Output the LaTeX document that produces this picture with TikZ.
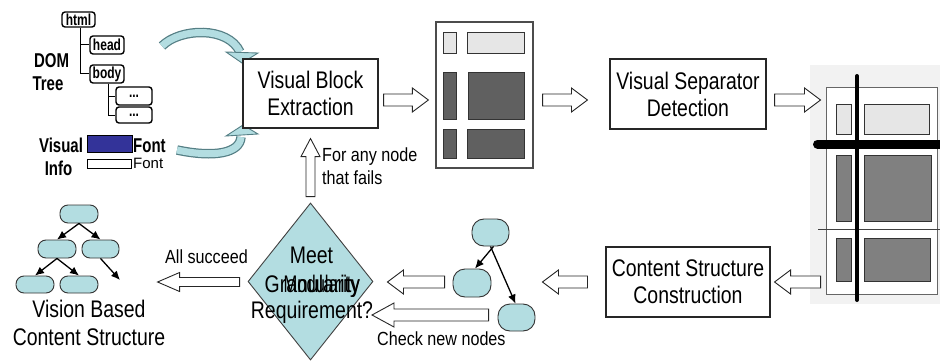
\documentclass[tikz,border=0pt]{standalone}
\usepackage{fontspec}
\setmainfont{Liberation Sans}
\newfontfamily\labf{Liberation Sans}[FakeStretch=0.85]
\newfontfamily\boxf{Liberation Sans}[FakeStretch=0.81]
\newfontfamily\domf{Liberation Sans}[FakeStretch=0.75]
\usetikzlibrary{arrows.meta,calc,shapes.geometric}
\definecolor{aqua}{HTML}{B3DDE1}
\definecolor{aquaedge}{HTML}{557F85}
\definecolor{navyfill}{HTML}{333399}
\definecolor{lightblk}{HTML}{E6E6E6}
\definecolor{darkblk}{HTML}{606060}
\definecolor{midblk}{HTML}{808080}
\begin{document}
\begin{tikzpicture}[x=1pt,y=-1pt,
  box/.style={draw=black!85, line width=1.1pt, fill=white, inner sep=0pt, align=center,
    font=\boxf\fontsize{24}{27}\selectfont},
  lbl/.style={inner sep=0pt, font=\labf\fontsize{19}{23}\selectfont},
  big/.style={inner sep=0pt, align=center, font=\boxf\fontsize{24}{28}\selectfont},
  domlbl/.style={inner sep=0pt, font=\domf\bfseries\fontsize{20}{22}\selectfont},
  dombox/.style={draw=black, line width=1.4pt, rounded corners=3pt, fill=white, inner sep=0pt,
    font=\domf\bfseries\fontsize{16}{16}\selectfont},
  page/.style={draw=black!70, line width=1.2pt, fill=white, inner sep=0pt},
  blkl/.style={draw=black!80, line width=0.9pt, fill=lightblk},
  blkd/.style={draw=black!80, line width=0.9pt, fill=darkblk},
  blkm/.style={draw=black!80, line width=0.9pt, fill=midblk},
  tnode/.style={draw=black!80, fill=aqua, line width=0.9pt, inner sep=0pt},
  tarr/.style={-{Latex[length=9pt,width=8pt]}, line width=1.3pt, black},
  blk/.style={draw=black!85, fill=white, line width=0.9pt},
  rblk/.style args={#1/#2/#3}{to path={let \p1=(\tikztostart), \p2=(\tikztotarget) in
    (\x1,\y1+#1pt) -- (\x2-#3pt,\y1+#1pt) -- (\x2-#3pt,\y1+#2pt) -- (\x2,\y1)
    -- (\x2-#3pt,\y1-#2pt) -- (\x2-#3pt,\y1-#1pt) -- (\x1,\y1-#1pt) -- cycle}},
  lblk/.style args={#1/#2/#3}{to path={let \p1=(\tikztostart), \p2=(\tikztotarget) in
    (\x1,\y1+#1pt) -- (\x2+#3pt,\y1+#1pt) -- (\x2+#3pt,\y1+#2pt) -- (\x2,\y1)
    -- (\x2+#3pt,\y1-#2pt) -- (\x2+#3pt,\y1-#1pt) -- (\x1,\y1-#1pt) -- cycle}},
  ublk/.style args={#1/#2/#3}{to path={let \p1=(\tikztostart), \p2=(\tikztotarget) in
    (\x1-#1pt,\y1) -- (\x1-#1pt,\y2-#3pt) -- (\x1-#2pt,\y2-#3pt) -- (\x1,\y2)
    -- (\x1+#2pt,\y2-#3pt) -- (\x1+#1pt,\y2-#3pt) -- (\x1+#1pt,\y1) -- cycle}}
]
\useasboundingbox (0,0) rectangle (940,361);

% ---------- DOM tree and visual info ----------
\node[dombox, minimum width=33, minimum height=15] (html) at (78.5,19.5) {html};
\node[dombox, minimum width=34, minimum height=18] (head) at (107,45) {head};
\node[dombox, minimum width=34, minimum height=18] (body) at (107,74) {body};
\node[dombox, minimum width=36, minimum height=18] (d1) at (134,96) {...};
\node[dombox, minimum width=36, minimum height=16] (d2) at (134,115) {...};
\draw[line width=1pt] ([xshift=2pt]html.south) |- (head.west);
\draw[line width=1pt] ([xshift=2pt]html.south) |- (body.west);
\draw[line width=1pt] ([xshift=1pt]body.south) |- (d1.west);
\draw[line width=1pt] ([xshift=1pt]body.south) |- (d2.west);

\node[domlbl, anchor=base] (domt) at (51.5,68) {DOM};
\node[domlbl, anchor=base] (treet) at (48,90) {Tree};
\node[domlbl, anchor=base] (vist) at (61,152) {Visual};
\node[domlbl, anchor=base] (infot) at (58.5,175) {Info};
\node[draw=black, line width=0.8pt, fill=navyfill, minimum width=45, minimum height=17, inner sep=0pt] (fontA) at (109.5,143.5) {};
\node[draw=black, line width=0.8pt, fill=white, minimum width=44, minimum height=9, inner sep=0pt] (fontB) at (109,163.5) {};
\node[domlbl, anchor=base west] (fontAt) at (133,152) {Font};
\node[inner sep=0pt, anchor=base west, font=\fontsize{15}{16}\selectfont] (fontBt) at (133,168.5) {Font};

% ---------- curved feedback arrows ----------
\draw[aquaedge, line width=9.5pt] (162,46) .. controls (180,28) and (228,26) .. (240,52);
\draw[aqua, line width=7pt] (162,46) .. controls (180,28) and (228,26) .. (240,52);
\filldraw[fill=aqua, draw=aquaedge, line width=0.9pt] (226,52) -- (258,53) -- (242,63) -- cycle;
\draw[aquaedge, line width=9.5pt] (177,150) .. controls (215,158) and (240,153) .. (241,137);
\draw[aqua, line width=7pt] (177,150) .. controls (215,158) and (240,153) .. (241,137);
\filldraw[fill=aqua, draw=aquaedge, line width=0.9pt] (226,136) -- (258,134) -- (243,125) -- cycle;

% ---------- process boxes ----------
\node[box, minimum width=135, minimum height=69] (vbe) at (310.5,93.5) {Visual Block\\Extraction};
\node[box, minimum width=156, minimum height=70] (vsd) at (688,94) {Visual Separator\\Detection};
\node[box, minimum width=164, minimum height=70] (csc) at (688,282) {Content Structure\\Construction};

% ---------- page with blocks ----------
\node[page, minimum width=97, minimum height=146] (shot1) at (484.5,95) {};
\draw[blkl] (443,32) rectangle (456,53);
\draw[blkl] (467,32) rectangle (524,53);
\draw[blkd] (443,72) rectangle (456,119);
\draw[blkd] (468,72) rectangle (524,119);
\draw[blkd] (443,129) rectangle (456,158);
\draw[blkd] (467,129) rectangle (524,158);

% ---------- page with separators ----------
\fill[black!5] (810,65) rectangle (940,304);
\node[draw=black!60, line width=1pt, fill=white, minimum width=111, minimum height=206, inner sep=0pt] (frame2) at (881.5,191) {};
\draw[blkl] (836,104) rectangle (851,134);
\draw[blkl] (864,104) rectangle (929,134);
\draw[blkm] (836,155) rectangle (851,221);
\draw[blkm] (864,155) rectangle (931,221);
\draw[blkm] (836,238) rectangle (851,281);
\draw[blkm] (864,238) rectangle (930,281);
\draw[line width=1pt, black!75] (818,229) -- (945,229);
\draw[line width=9pt, line cap=round] (817.5,144) -- (950,144);
\draw[line width=4pt, line cap=round] (857,76) -- (857,300);

% ---------- block arrows of the main flow ----------
\draw[blk, rblk=6/12/16] ([xshift=5pt,yshift=-6.5pt]vbe.east) to ([xshift=-7pt]shot1.west);
\draw[blk, rblk=6/12/16] ([xshift=9pt,yshift=-5pt]shot1.east) to ([xshift=-22pt]vsd.west);
\draw[blk, rblk=6/12/16] ([xshift=8pt,yshift=-6pt]vsd.east) to ([xshift=-5pt]frame2.west);
\draw[blk, lblk=6/12/16] ([xshift=50pt]csc.east) to ([xshift=4pt]csc.east);

% ---------- new content structure ----------
\node[tnode, rounded corners=12pt, minimum width=37, minimum height=27] (T) at (490.5,232.5) {};
\node[tnode, rounded corners=12pt, minimum width=38, minimum height=28] (L) at (472,283) {};
\node[tnode, rounded corners=12pt, minimum width=37, minimum height=27] (R) at (516.5,317.5) {};
\draw[tarr] ([xshift=3pt]T.south) -- ([xshift=3pt]L.north);
\draw[tarr] (T.south) -- ([xshift=-1pt]R.north);

\draw[blk, lblk=6/12/16] ([xshift=-18pt]csc.west) to ([xshift=7pt]R.east);

% ---------- granularity check ----------
\node[diamond, draw=black!75, fill=aqua, line width=0.9pt, minimum width=125, minimum height=157, inner sep=0pt] (dia) at (310.5,281.5) {};
\node[big, anchor=base] (meet) at (311.5,263) {Meet};
\node[big, anchor=base east] (gran) at (360,292) {Granularity};
\node[big, anchor=base east, xscale=0.85] (modu) at (360,292) {Modularity};
\node[big, anchor=base] (requ) at (312,318) {Requirement?};

\draw[blk, lblk=6/12/16] ([xshift=-8pt,yshift=1pt]L.west) to ([xshift=14pt]dia.east);
\draw[blk, lblk=6/12/22] ([xshift=-9pt,yshift=2.5pt]R.west) to ([xshift=61.5pt]dia.center);
\node[lbl, anchor=base west] (chk) at (377,345) {Check new nodes};

\draw[blk, ublk=4.5/9.5/18] ([yshift=6pt]dia.north) to ([yshift=-10pt]vbe.south);
\node[lbl, anchor=north west, align=left] (fail) at (322,148) {For any node\\that fails};

\draw[blk, lblk=4.5/9.5/22] ([xshift=-8pt,yshift=-0.5pt]dia.west) to ([xshift=-90pt]dia.west);
\node[lbl, anchor=base west] (succ) at (165,263) {All succeed};

% ---------- vision based content structure ----------
\node[tnode, rounded corners=8pt, minimum width=38, minimum height=18] (vt) at (79,214) {};
\node[tnode, rounded corners=8pt, minimum width=38, minimum height=18] (vml) at (57,249) {};
\node[tnode, rounded corners=8pt, minimum width=37, minimum height=18] (vmr) at (100.5,249) {};
\node[tnode, rounded corners=8pt, minimum width=38, minimum height=17] (vbl) at (35,284.5) {};
\node[tnode, rounded corners=8pt, minimum width=38, minimum height=17] (vbm) at (79,284.5) {};
\coordinate (vfree) at (120,280);
\draw[tarr] (vt.south) -- (vml.north);
\draw[tarr] (vt.south) -- (vmr.north);
\draw[tarr] (vml.south) -- (vbl.north);
\draw[tarr] (vml.south) -- (vbm.north);
\draw[tarr] (vmr.south) -- (vfree);
\node[big, anchor=north] (vbcs) at (89,300) {Vision Based\\Content Structure};
\end{tikzpicture}
\end{document}
